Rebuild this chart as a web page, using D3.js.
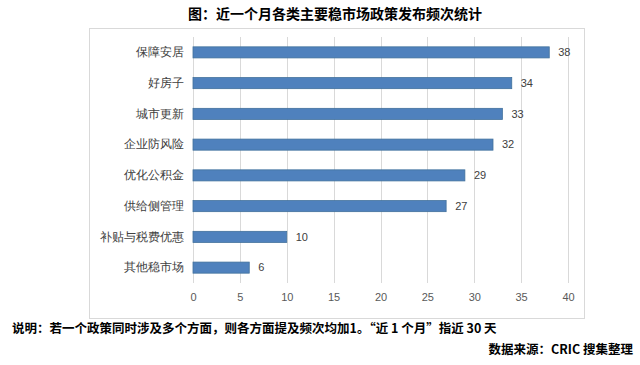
<!DOCTYPE html>
<html>
<head>
<meta charset="utf-8">
<script src="https://cdn.jsdelivr.net/npm/d3@7"></script>
<style>
  body { margin: 0; background: #fff; }
  svg { display: block; font-family: "Noto Sans CJK SC", "Microsoft YaHei", sans-serif; }
</style>
</head>
<body>
<div id="chart"></div>
<script>
const categories = ["保障安居", "好房子", "城市更新", "企业防风险", "优化公积金", "供给侧管理", "补贴与税费优惠", "其他稳市场"];
const counts = [38, 34, 33, 32, 29, 27, 10, 6];
const xTicks = [0, 5, 10, 15, 20, 25, 30, 35, 40];

const width = 640, height = 365;
const margin = {top: 37, right: 72, bottom: 82, left: 193};
const innerW = width - margin.left - margin.right;
const innerH = height - margin.top - margin.bottom;

const svg = d3.select("#chart").append("svg")
    .attr("width", width)
    .attr("height", height);

// title
svg.append("text")
    .attr("x", 335)
    .attr("y", 14)
    .attr("dy", "0.35em")
    .style("text-anchor", "middle")
    .style("font-size", "14px")
    .style("font-weight", "bold")
    .style("fill", "#000")
    .text("图：近一个月各类主要稳市场政策发布频次统计");

// chart frame
svg.append("rect")
    .attr("x", 89.5)
    .attr("y", 28.5)
    .attr("width", 495)
    .attr("height", 290)
    .attr("fill", "none")
    .attr("stroke", "#d9d9d9");

const g = svg.append("g")
    .attr("transform", "translate(" + margin.left + "," + margin.top + ")");

const x = d3.scaleLinear().domain([0, 40]).range([0, 375]);
const y = d3.scaleBand().domain(categories).range([0, innerH]).paddingInner(0.64).paddingOuter(0.32);

// gridlines
g.selectAll(".grid")
    .data(xTicks)
    .enter().append("line")
    .attr("class", "grid")
    .attr("x1", d => Math.round(x(d)) + 0.5)
    .attr("x2", d => Math.round(x(d)) + 0.5)
    .attr("y1", 0)
    .attr("y2", innerH)
    .attr("stroke", "#d9d9d9");

// x axis labels
const xAxis = g.append("g")
    .attr("transform", "translate(0," + innerH + ")")
    .call(d3.axisBottom(x).tickValues(xTicks).tickSize(0).tickPadding(10));
xAxis.select(".domain").remove();
xAxis.selectAll("text")
    .style("font-size", "11px")
    .style("fill", "#595959")
    .style("font-family", "Liberation Sans, Arial, sans-serif");

// y axis labels
const yAxis = g.append("g")
    .call(d3.axisLeft(y).tickSize(0).tickPadding(9));
yAxis.select(".domain").remove();
yAxis.selectAll("text")
    .style("font-size", "12px")
    .style("fill", "#404040");

// bars
g.selectAll(".bar")
    .data(categories)
    .enter().append("rect")
    .attr("class", "bar")
    .attr("x", x(0))
    .attr("y", d => y(d))
    .attr("width", (d, i) => x(counts[i]) - x(0))
    .attr("height", y.bandwidth())
    .attr("fill", "#4f81bd")
    .attr("stroke", "#41719c")
    .attr("stroke-width", 0.8);

// value labels
g.selectAll(".val")
    .data(categories)
    .enter().append("text")
    .attr("class", "val")
    .attr("x", (d, i) => x(counts[i]) + 9)
    .attr("y", d => y(d) + y.bandwidth() / 2)
    .attr("dy", "0.35em")
    .style("font-size", "11px")
    .style("fill", "#404040")
    .style("font-family", "Liberation Sans, Arial, sans-serif")
    .text((d, i) => counts[i]);

// notes
svg.append("text")
    .attr("x", 12)
    .attr("y", 329)
    .attr("dy", "0.35em")
    .style("font-size", "12.5px")
    .style("font-weight", "bold")
    .style("fill", "#000")
    .text("说明：若一个政策同时涉及多个方面，则各方面提及频次均加1。“近 1 个月”指近 30 天");

svg.append("text")
    .attr("x", 633)
    .attr("y", 350)
    .attr("dy", "0.35em")
    .style("text-anchor", "end")
    .style("font-size", "12.5px")
    .style("font-weight", "bold")
    .style("fill", "#000")
    .text("数据来源：CRIC 搜集整理");
</script>
</body>
</html>
